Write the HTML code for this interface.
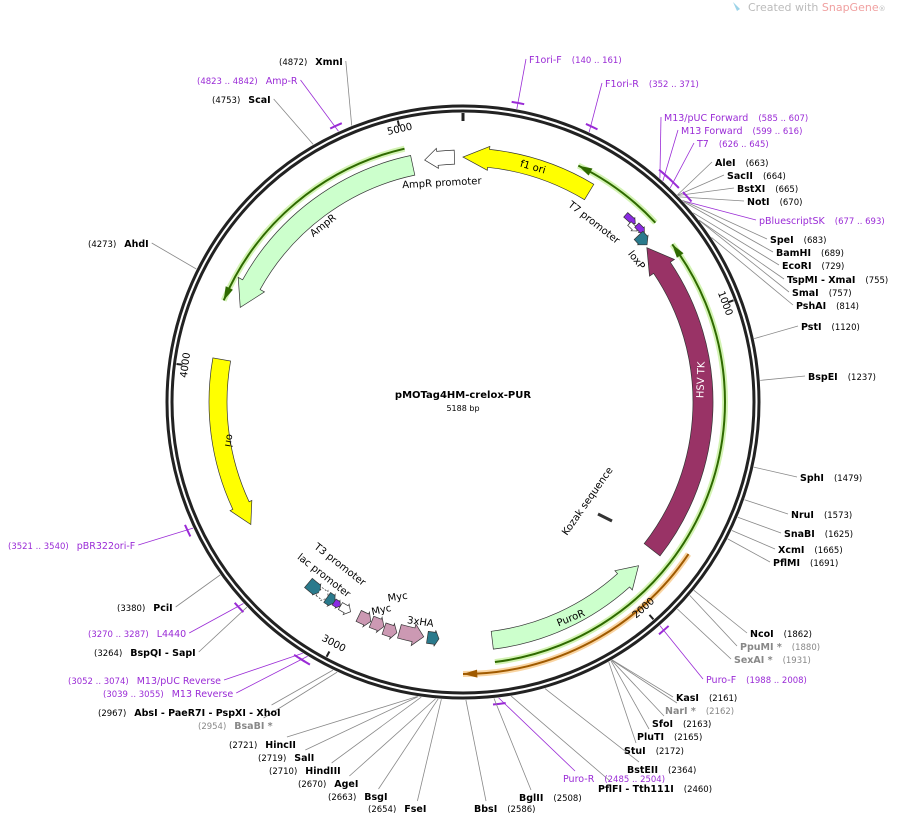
<!DOCTYPE html>
<html><head><meta charset="utf-8">
<style>
html,body{margin:0;padding:0;background:#fff;}
svg{display:block;font-family:"DejaVu Sans","Liberation Sans",sans-serif;}
.n{font-size:9.5px;font-weight:bold;fill:#000}
.m{font-size:8.5px;fill:#000}
</style></head>
<body>
<svg id="s" width="900" height="819" viewBox="0 0 900 819" xmlns="http://www.w3.org/2000/svg">
<text x="748" y="11" style="font-size:11px;fill:#bbb">Created with <tspan fill="#f0a0a0">SnapGene</tspan><tspan font-size="7">®</tspan></text>
<path d="M733 2 l4 9 l3 -2 z" fill="#9cd3e8"/>
<g id="lines"></g>
<circle cx="463" cy="402" r="296" fill="none" stroke="#222" stroke-width="3"/>
<circle cx="463" cy="402" r="291" fill="none" stroke="#222" stroke-width="3"/>
<g id="feat"></g>
<g id="txt"></g>
<text x="463" y="398" text-anchor="middle" style="font-size:10px;font-weight:bold">pMOTag4HM-crelox-PUR</text>
<text x="463" y="411" text-anchor="middle" style="font-size:8px">5188 bp</text>
</svg>
<script>
const NS="http://www.w3.org/2000/svg",C=[463,402];
const svg=document.getElementById('s'),LG=document.getElementById('lines'),FG=document.getElementById('feat'),TG=document.getElementById('txt');
function P(r,a){a=a*Math.PI/180;return [C[0]+r*Math.sin(a),C[1]-r*Math.cos(a)];}
function el(t,at,par,txt){const e=document.createElementNS(NS,t);for(const k in at)e.setAttribute(k,at[k]);if(txt!==undefined)e.textContent=txt;(par||svg).appendChild(e);return e;}
function arc(r,a1,a2){const p1=P(r,a1),p2=P(r,a2);const sw=a2>a1?1:0;const la=Math.abs(a2-a1)>180?1:0;return `A${r} ${r} 0 ${la} ${sw} ${p2[0].toFixed(1)} ${p2[1].toFixed(1)}`;}
function arrow(r,w,a1,a2,fill,hw,hd,dash){hw=hw||w*1.5;hd=hd||6;const d=a2>a1?1:-1;const b=a2-d*hd;
 const s=P(r+w/2,a1);let path=`M${s[0]} ${s[1]} `+arc(r+w/2,a1,b);
 let q=P(r+hw/2,b);path+=` L${q[0]} ${q[1]}`;q=P(r,a2);path+=` L${q[0]} ${q[1]}`;q=P(r-hw/2,b);path+=` L${q[0]} ${q[1]}`;
 q=P(r-w/2,b);path+=` L${q[0]} ${q[1]} `+arc(r-w/2,b,a1)+' Z';
 const at={d:path,fill:fill,stroke:'#333','stroke-width':0.7};if(dash)at['stroke-dasharray']='2,1.5';
 el('path',at,FG);}
function line(r,a1,a2,col,w,head,glow){const s=P(r,a1);const d=`M${s[0]} ${s[1]} `+arc(r,a1,a2);
 if(glow)el('path',{d:d,fill:'none',stroke:glow,'stroke-width':6,opacity:0.8},FG);
 el('path',{d:d,fill:'none',stroke:col,'stroke-width':w},FG);
 if(head!==undefined){const dd=head===a2?(a2>a1?-1:1):(a1>a2?-1:1);const t=P(r,head),b1=P(r+4,head+dd*3),b2=P(r-4,head+dd*3);
 el('path',{d:`M${t[0]} ${t[1]} L${b1[0]} ${b1[1]} L${b2[0]} ${b2[1]} Z`,fill:col},FG);}}
line(260,-13,-67,'#2f6a00',2,-67,'#c8f0a0');
line(263,47,26,'#2f6a00',2,26,'#c8f0a0');
line(262,173,53,'#2f6a00',2,53,'#c8f0a0');
line(272,124,180,'#a05a00',2,180,'#f7c98a');
arrow(245,18,31,0,'#ffff00',24,6);
arrow(245,14,-2,-9,'#ffffff',20,3);
arrow(242,20,-12,-67,'#ccffcc',30,6);
arrow(245,18,-80,-120,'#ffff00',24,5);
arrow(240,20,128,50,'#993366',30,6);
arrow(240,18,173,133,'#ccffcc',26,5);
arrow(248,6,41,44,'#8a2be2',8,1);
arrow(244,5,43,45.5,'#ffffff',8,1);
arrow(248,6,44.5,47,'#8a2be2',8,1);
arrow(242,12,46.5,49.5,'#2a7a8c',14,1.5);
// bottom-left small features
arrow(238,12,220.5,217,'#2a7a8c',14,1);
arrow(238,10,217.2,214.6,'#ffffff',12,1,true);
arrow(238,12,214.8,212.6,'#2a7a8c',14,1);
arrow(238,7,212.8,211,'#8a2be2',9,0.8);
arrow(238,8,211,208.2,'#ffffff',12,1.2);
arrow(238,12,206,202.8,'#cc99b3',16,1.2);
arrow(238,12,202.6,199.4,'#cc99b3',16,1.2);
arrow(240,12,199.2,196,'#cc99b3',16,1.2);
arrow(238,14,195.5,189.5,'#cc99b3',22,2.5);
arrow(238,12,188.6,185.8,'#2a7a8c',16,1);
el('line',{x1:598,y1:514,x2:612,y2:521,stroke:'#333','stroke-width':3},FG);
[[0,''],[1000,'1000'],[2000,'2000'],[3000,'3000'],[4000,'4000'],[5000,'5000']].forEach(([p,l])=>{const a=p/5188*360;const a1=P(289,a),a2=P(p==0?281:283,a);
 el('line',{x1:a1[0],y1:a1[1],x2:a2[0],y2:a2[1],stroke:'#222','stroke-width':p==0?3:2},FG);
 if(l){const t=P(277,a);let rot=(a>90&&a<270)?a-180:a;el('text',{x:t[0],y:t[1],'text-anchor':'middle',transform:`rotate(${rot} ${t[0]} ${t[1]})`,style:'font-size:10px'},FG,l);}});
function fl(t,x,y,r,c,s){el('text',{x:x,y:y,'text-anchor':'middle',transform:`rotate(${r} ${x} ${y})`,style:`font-size:${s||10}px;fill:${c||'#000'}`},TG,t);}
fl('f1 ori',532,170,16);fl('AmpR promoter',442,186,-3);fl('AmpR',325,228,-38);fl('ori',226,440,100);
fl('HSV TK',704,380,-88,'#fff');fl('PuroR',572,621,-22);fl('T7 promoter',592,225,38);fl('loxP',634,262,52);
fl('Kozak sequence',590,503,-55);fl('T3 promoter',338,567,38);fl('lac promoter',322,578,38);
fl('Myc',382,613,-12);fl('Myc',398,600,-8);fl('3xHA',420,625,8);
const R=[
['XmnI','(4872)',279,65,4872,'k','L'],['Amp-R','(4823 .. 4842)',197,84,4832,'p','L'],['ScaI','(4753)',212,103,4753,'k','L'],
['F1ori-F','(140 .. 161)',529,63,150,'p','R'],['F1ori-R','(352 .. 371)',605,87,361,'p','R'],
['M13/pUC Forward','(585 .. 607)',664,121,596,'p','R'],['M13 Forward','(599 .. 616)',681,134,607,'p','R'],['T7','(626 .. 645)',697,147,635,'p','R'],
['AleI','(663)',715,166,663,'k','R'],['SacII','(664)',727,179,664,'k','R'],['BstXI','(665)',737,192,665,'k','R'],['NotI','(670)',747,205,670,'k','R'],
['pBluescriptSK','(677 .. 693)',759,224,685,'p','R'],['SpeI','(683)',770,243,683,'k','R'],['BamHI','(689)',776,256,689,'k','R'],['EcoRI','(729)',782,269,729,'k','R'],
['TspMI  - XmaI','(755)',787,283,755,'k','R'],['SmaI','(757)',792,296,757,'k','R'],['PshAI','(814)',796,309,814,'k','R'],['PstI','(1120)',801,330,1120,'k','R'],
['BspEI','(1237)',808,380,1237,'k','R'],['SphI','(1479)',800,481,1479,'k','R'],['NruI','(1573)',791,518,1573,'k','R'],['SnaBI','(1625)',784,537,1625,'k','R'],
['XcmI','(1665)',778,553,1665,'k','R'],['PflMI','(1691)',773,566,1691,'k','R'],['NcoI','(1862)',750,637,1862,'k','R'],['PpuMI *','(1880)',740,650,1880,'g','R'],
['SexAI *','(1931)',734,663,1931,'g','R'],['Puro-F','(1988 .. 2008)',706,683,1998,'p','R'],['KasI','(2161)',676,701,2161,'k','R'],['NarI *','(2162)',665,714,2162,'g','R'],
['SfoI','(2163)',652,727,2163,'k','R'],['PluTI','(2165)',637,740,2165,'k','R'],['StuI','(2172)',624,754,2172,'k','R'],['BstEII','(2364)',627,773,2364,'k','R'],
['PflFI  - Tth111I','(2460)',598,792,2460,'k','R'],['Puro-R','(2485 .. 2504)',563,782,2495,'p','R'],['BglII','(2508)',519,801,2508,'k','R'],['BbsI','(2586)',474,812,2586,'k','R'],
['FseI','(2654)',368,812,2654,'k','L'],['BsgI','(2663)',328,800,2663,'k','L'],['AgeI','(2670)',298,787,2670,'k','L'],['HindIII','(2710)',269,774,2710,'k','L'],
['SalI','(2719)',258,761,2719,'k','L'],['HincII','(2721)',229,748,2721,'k','L'],['BsaBI *','(2954)',198,729,2954,'g','L'],
['AbsI  - PaeR7I  - PspXI  - XhoI','(2967)',98,716,2967,'k','L'],['M13 Reverse','(3039 .. 3055)',103,697,3047,'p','L'],
['M13/pUC Reverse','(3052 .. 3074)',68,684,3063,'p','L'],['BspQI  - SapI','(3264)',94,656,3264,'k','L'],['L4440','(3270 .. 3287)',88,637,3278,'p','L'],
['PciI','(3380)',117,611,3380,'k','L'],['pBR322ori-F','(3521 .. 3540)',8,549,3530,'p','L'],['AhdI','(4273)',88,247,4273,'k','L']];
R.forEach(([nm,nu,x,y,pos,c,side])=>{
 const col=c=='p'?'#9a2bd6':c=='g'?'#888':'#000';const lc=c=='p'?'#9a2bd6':'#888';
 let first,second;
 if(side=='R'){first=el('text',{x:x,y:y,class:c=='p'?'m':'n',style:`fill:${col};font-size:9.5px`},TG,nm);
  const w=first.getComputedTextLength();second=el('text',{x:x+w+10,y:y,class:'m',style:`fill:${col}`},TG,nu);}
 else{first=el('text',{x:x,y:y,class:'m',style:`fill:${col}`},TG,nu);
  const w=first.getComputedTextLength();second=el('text',{x:x+w+8,y:y,class:c=='p'?'m':'n',style:`fill:${col};font-size:9.5px`},TG,nm);}
 const a=pos/5188*360;const p=P(298,a);let lx,ly;
 if(side=='R'){lx=x-3;ly=y-4;}else{lx=x+first.getComputedTextLength()+8+second.getComputedTextLength()+3;ly=y-4;}
 if(y>760||(a>150&&a<215&&y>700)){const cx=side=='R'?x+12:lx-12;lx=cx;ly=y-11;}
 el('line',{x1:p[0],y1:p[1],x2:lx,y2:ly,stroke:lc,'stroke-width':0.8},LG);
 if(c=='p'){const s=P(304,a-1.2);el('path',{d:`M${s[0]} ${s[1]} `+arc(304,a-1.2,a+1.2),fill:'none',stroke:'#9a2bd6','stroke-width':2},LG);}
});
</script>
</body></html>
